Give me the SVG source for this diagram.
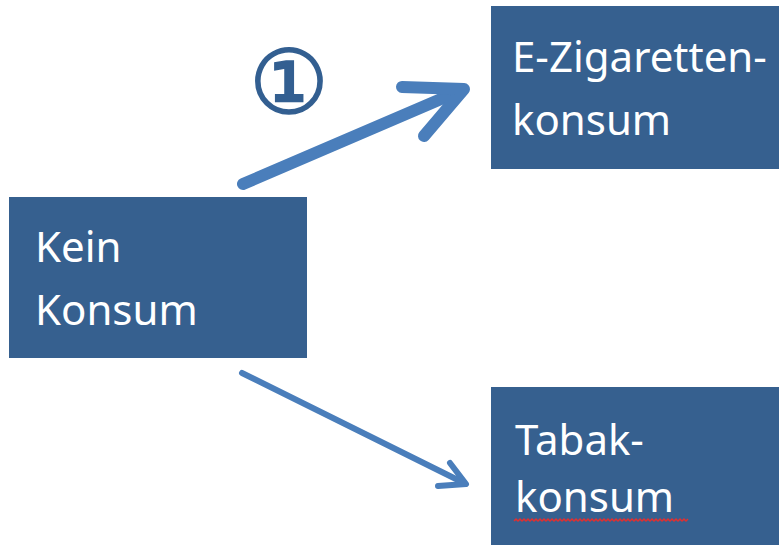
<svg xmlns="http://www.w3.org/2000/svg" width="779" height="545" viewBox="0 0 779 545">
<style>
.box{fill:#36608f}
.lbl{font-family:"Noto Sans","Open Sans",sans-serif;font-size:42px;fill:#ffffff}
.arr{fill:none;stroke:#4a7ebb;stroke-linecap:round;stroke-linejoin:round}
</style>
<rect width="779" height="545" fill="#ffffff"/>
<g id="connectors">
<g id="arrow1">
<line class="arr" x1="243" y1="184" x2="462" y2="90" stroke-width="12"/>
<polyline class="arr" points="402,87 464,89 424,136" stroke-width="12"/>
</g>
<g id="arrow2">
<line class="arr" x1="242" y1="373" x2="464" y2="483" stroke-width="6"/>
<polyline class="arr" points="450,463 466,484 438,486" stroke-width="6"/>
</g>
</g>
<g id="label1">
<text x="289" y="113" text-anchor="middle" font-family="DejaVu Sans,sans-serif" font-size="88" fill="#335f91" stroke="#335f91" stroke-width="2">①</text>
</g>
<g id="kein">
<rect class="box" x="9" y="197" width="298" height="161"/>
<text class="lbl" x="35" y="262">Kein</text>
<text class="lbl" x="35" y="325">Konsum</text>
</g>
<g id="ezig">
<rect class="box" x="491" y="6" width="288" height="163"/>
<text class="lbl" x="512" y="72">E-Zigaretten-</text>
<text class="lbl" x="512" y="135">konsum</text>
</g>
<g id="tabak">
<rect class="box" x="491" y="387" width="288" height="158"/>
<text class="lbl" x="515" y="455">Tabak-</text>
<text class="lbl" x="515" y="512">konsum</text>
<path d="M514,521 l2,-2 l2,2 l2,-2 l2,2 l2,-2 l2,2 l2,-2 l2,2 l2,-2 l2,2 l2,-2 l2,2 l2,-2 l2,2 l2,-2 l2,2 l2,-2 l2,2 l2,-2 l2,2 l2,-2 l2,2 l2,-2 l2,2 l2,-2 l2,2 l2,-2 l2,2 l2,-2 l2,2 l2,-2 l2,2 l2,-2 l2,2 l2,-2 l2,2 l2,-2 l2,2 l2,-2 l2,2 l2,-2 l2,2 l2,-2 l2,2 l2,-2 l2,2 l2,-2 l2,2 l2,-2 l2,2 l2,-2 l2,2 l2,-2 l2,2 l2,-2 l2,2 l2,-2 l2,2 l2,-2 l2,2 l2,-2 l2,2 l2,-2 l2,2 l2,-2 l2,2 l2,-2 l2,2 l2,-2 l2,2 l2,-2 l2,2 l2,-2 l2,2 l2,-2 l2,2 l2,-2 l2,2 l2,-2 l2,2 l2,-2 l2,2 l2,-2 l2,2 l2,-2 l2,2 l2,-2" fill="none" stroke="#e03030" stroke-width="1.5"/>
</g>
</svg>
